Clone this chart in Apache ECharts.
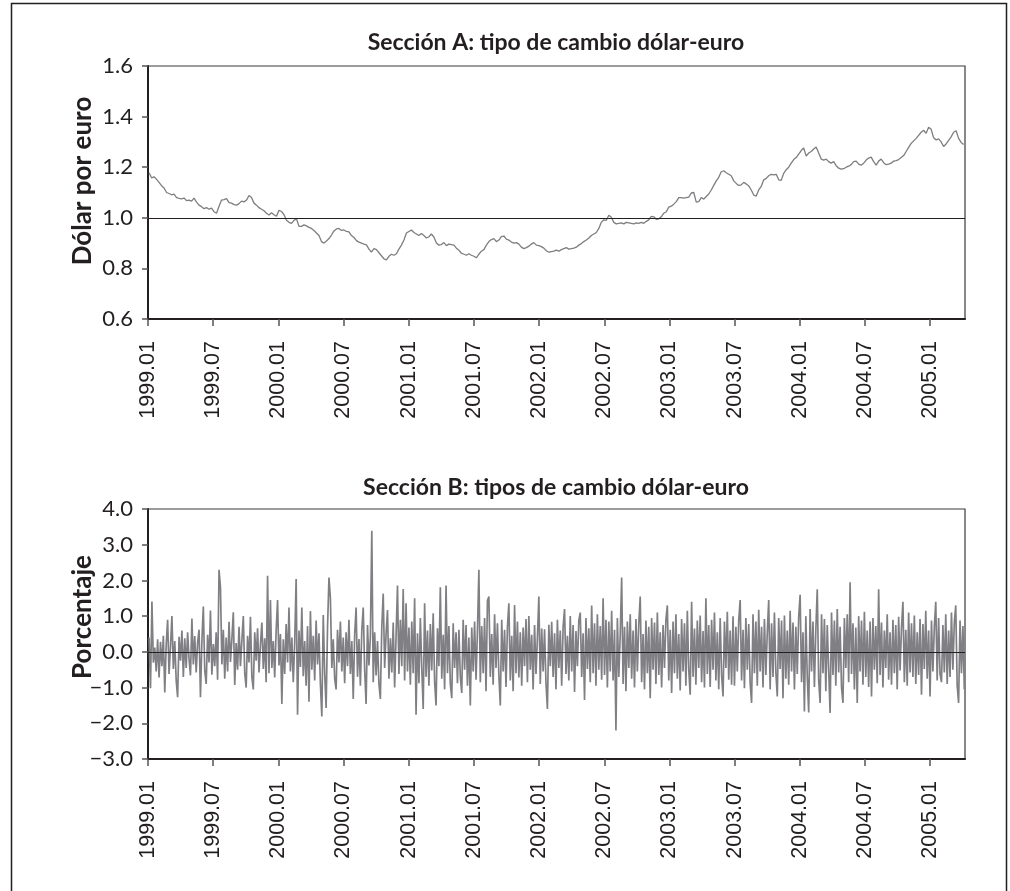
<!DOCTYPE html>
<html>
<head>
<meta charset="utf-8">
<title>Tipo de cambio dólar-euro</title>
<script src="https://cdn.jsdelivr.net/npm/echarts@6/dist/echarts.min.js"></script>
<style>
  html, body { margin: 0; padding: 0; background: #ffffff; }
  #chart { width: 1010px; height: 891px; }
</style>
</head>
<body>
<div id="chart"></div>
<script>
// Etiquetas del eje temporal (cada seis meses)
const xTickLabels = ['1999.01','1999.07','2000.01','2000.07','2001.01','2001.07','2002.01',
  '2002.07','2003.01','2003.07','2004.01','2004.07','2005.01'];

// Sección A: dólares por euro, un dato por semana (lunes), desde el 4 de enero de 1999
const rateWeekly = [
  // 1999
  1.178,1.158,1.162,1.152, 1.140,1.127,1.118,1.100, 1.096,1.091,1.094,1.080,1.077,
  1.075,1.078,1.068,1.070, 1.066,1.078,1.062,1.050,1.044, 1.036,1.040,1.034,1.038,
  1.024,1.018,1.046,1.070, 1.072,1.076,1.060,1.058,1.052, 1.050,1.056,1.066,1.063,
  1.070,1.088,1.080,1.058, 1.050,1.040,1.034,1.028,1.018, 1.011,1.020,1.012,1.006,
  // 2000
  1.030,1.025,1.012,0.990,0.982, 0.978,0.990,0.996,0.966, 0.966,0.972,0.968,0.962,
  0.958,0.950,0.940,0.930, 0.906,0.900,0.908,0.918,0.932, 0.948,0.956,0.958,0.950,
  0.952,0.946,0.944,0.930,0.922, 0.910,0.904,0.900,0.896, 0.893,0.876,0.864,0.878,
  0.874,0.862,0.850,0.838,0.834, 0.848,0.856,0.852,0.858, 0.876,0.892,0.912,0.940,
  // 2001
  0.946,0.952,0.942,0.936,0.930, 0.938,0.930,0.920,0.925, 0.936,0.924,0.900,0.892,
  0.894,0.902,0.890,0.896,0.894, 0.892,0.880,0.872,0.860, 0.856,0.852,0.858,0.852,
  0.848,0.842,0.856,0.868,0.874, 0.892,0.906,0.914,0.918, 0.906,0.912,0.926,0.928,
  0.916,0.912,0.904,0.900,0.902, 0.896,0.884,0.878,0.882, 0.888,0.896,0.902,0.892,0.890,
  // 2002
  0.886,0.880,0.870,0.864, 0.866,0.868,0.872,0.868, 0.874,0.878,0.882,0.876,
  0.878,0.880,0.884,0.892,0.898, 0.906,0.912,0.920,0.930, 0.936,0.942,0.958,0.982,
  0.992,0.990,1.010,1.002,0.982, 0.976,0.978,0.980,0.976, 0.982,0.980,0.978,0.976,0.980,
  0.978,0.982,0.978,0.986, 0.992,1.006,1.004,0.994, 0.996,1.004,1.018,1.024,1.042,
  // 2003
  1.046,1.054,1.064,1.080, 1.080,1.078,1.080,1.082, 1.098,1.100,1.062,1.064,1.080,
  1.074,1.084,1.094,1.110, 1.128,1.146,1.160,1.182, 1.186,1.178,1.172,1.166,1.146,
  1.136,1.128,1.130,1.140, 1.134,1.126,1.110,1.090, 1.086,1.110,1.124,1.150,1.156,
  1.166,1.172,1.170,1.172, 1.150,1.148,1.176,1.190, 1.200,1.216,1.230,1.238,1.252,
  // 2004
  1.266,1.276,1.244,1.256, 1.262,1.272,1.280,1.256, 1.232,1.228,1.232,1.222,1.216,
  1.222,1.206,1.196,1.192, 1.194,1.200,1.204,1.210,1.222, 1.224,1.212,1.208,1.216,
  1.228,1.236,1.240,1.222, 1.208,1.224,1.232,1.218,1.210, 1.212,1.216,1.224,1.226,
  1.230,1.238,1.246,1.262, 1.278,1.294,1.304,1.314,1.326, 1.338,1.346,1.334,1.358,
  // 2005
  1.350,1.316,1.308,1.312,1.300, 1.282,1.292,1.306,1.320, 1.338,1.344,1.314,1.298,
  1.290
];

// Sección B: variación porcentual del tipo de cambio, un dato cada cuatro días
const pctChange = [
  0.40,-1.02,1.41,-0.30,0.12,-0.55,0.35,-0.72,0.28,-0.40,0.45,-1.14,0.20,0.90,-0.62,0.15,
  1.00,-0.48,0.30,-0.80,-1.27,0.42,-0.25,0.60,-0.70,0.38,-0.45,0.55,-0.20,-0.66,0.93,-0.35,
  0.44,-0.58,0.25,0.62,-1.27,0.30,1.27,-0.52,-0.90,0.48,-0.30,1.16,-0.64,0.22,
  -0.40,0.55,-0.78,2.30,1.81,-0.35,0.62,-0.75,0.40,-0.55,0.84,-0.28,0.36,1.11,-0.93,0.25,
  -0.50,0.70,-0.40,0.32,1.00,-0.60,-1.00,0.45,-0.30,0.98,-0.70,-1.05,0.55,-0.25,0.66,-0.58,
  0.20,0.82,-0.48,0.38,-0.85,2.13,-0.60,1.45,-0.45,0.30,-0.72,0.58,1.45,-0.38,
  0.50,-1.46,0.35,-0.62,0.78,-0.30,1.24,-0.55,0.40,-0.85,0.25,2.04,-1.76,0.60,-0.42,1.24,
  -0.68,0.30,-0.95,0.72,-1.40,1.14,-0.50,0.45,-0.80,0.88,-0.35,0.52,-0.90,-1.81,1.03,-0.60,
  -1.57,0.70,2.08,1.50,-0.45,0.35,-0.75,-1.05,0.62,-0.30,0.85,-0.55,0.40,-0.88,
  0.55,-0.40,0.90,-0.62,0.30,-1.32,0.48,1.24,-0.70,0.36,-0.95,0.60,1.24,-0.50,-1.46,0.75,
  -0.38,0.42,3.39,-0.85,0.55,-0.66,0.30,-0.90,-1.32,0.70,1.63,-0.45,0.50,1.17,-0.75,0.38,
  -0.58,0.82,-1.00,0.45,1.86,-0.62,0.90,-0.40,1.76,-0.80,1.36,-0.55,0.68,-0.92,
  0.85,-0.60,1.50,-1.76,0.52,-0.88,0.95,-0.45,-1.60,1.36,-0.70,0.60,-0.95,0.78,-0.52,1.08,
  -0.84,-1.50,0.66,-0.40,1.81,-0.75,0.48,-1.05,1.86,-0.60,0.72,-0.90,-1.30,0.80,-0.45,0.55,
  -0.88,0.62,-0.70,-1.15,0.90,-0.50,0.75,-0.95,0.40,-1.50,0.68,-0.55,0.85,-0.78,
  0.60,2.30,-0.85,0.72,-0.60,0.95,-1.10,1.43,1.55,-0.70,0.50,-0.92,1.05,-0.45,0.80,-0.65,
  -1.50,0.90,-0.55,0.62,-0.98,0.70,1.36,-0.80,0.45,-1.10,1.31,-0.60,0.85,-0.72,0.55,-0.95,
  0.68,-0.40,0.92,-0.85,1.00,-0.50,0.48,-1.05,0.75,-0.62,0.40,1.55,-0.90,0.65,
  -0.55,0.63,-0.88,-1.60,0.76,-0.40,0.84,-0.70,0.52,-1.05,0.90,-0.45,0.60,-0.95,0.70,1.20,
  -0.62,0.45,-0.80,1.00,-0.55,0.75,-1.12,0.58,-0.40,0.88,1.10,-0.70,0.52,-1.35,0.95,-0.48,
  0.66,-0.85,1.30,-0.60,0.80,-0.95,1.05,-0.50,0.72,-0.78,1.50,-0.65,0.90,-1.00,
  0.85,-0.55,1.15,-0.80,0.62,-2.20,0.95,-0.70,0.48,2.08,-0.90,0.70,-1.10,0.85,-0.45,1.05,
  -0.75,0.60,-1.00,0.92,-0.55,0.78,1.55,-0.85,0.50,-1.05,0.88,-0.60,0.70,-1.30,0.95,-0.50,
  0.82,-0.90,1.10,-0.65,0.55,-1.00,0.75,-0.45,0.90,1.30,-0.80,0.62,-1.15,0.85,
  -0.60,1.05,-0.75,0.50,-1.08,0.92,-0.55,0.80,-0.95,1.15,-0.50,-1.20,1.40,-0.70,0.65,-0.92,
  0.88,-0.45,1.02,-0.85,0.58,-1.00,1.50,-0.62,0.75,-0.98,0.90,-0.50,1.10,-0.80,0.55,-1.05,
  0.95,-0.65,-1.25,0.85,-0.45,1.12,-0.78,0.60,-0.92,1.00,-0.95,0.70,-0.55,0.88,
  1.45,-0.80,0.62,-1.02,0.95,-0.50,0.78,-0.88,-1.43,1.05,-0.60,0.85,-0.95,1.18,-0.55,0.70,
  -1.00,0.92,-0.65,0.55,1.45,-1.05,0.80,-0.70,1.10,-0.58,-1.25,0.95,-0.48,0.88,-1.30,1.02,
  -0.75,0.60,-0.92,1.15,-0.55,0.82,-1.05,0.70,-0.62,0.98,1.60,-0.85,0.55,-1.67,
  1.00,-0.70,-1.70,1.20,-0.55,0.85,-0.98,0.62,1.75,-0.80,-1.43,1.05,-0.60,0.92,-1.10,0.75,
  -0.50,-1.71,1.10,-0.65,0.88,-0.95,1.20,-0.58,0.70,-1.00,-1.43,0.95,-0.45,1.05,-0.85,1.95,
  -0.62,0.80,-1.05,0.68,-1.43,1.00,-0.55,0.88,-0.92,1.12,-0.70,0.60,-0.98,0.85,
  -1.25,0.95,-0.50,0.72,-0.88,1.75,-0.65,0.82,-1.00,0.60,-0.45,1.05,-0.78,0.55,-0.92,0.90,
  -0.60,0.75,-1.05,0.98,-0.52,0.68,1.40,-0.85,0.62,-0.95,1.10,-0.58,0.80,-0.70,1.02,-0.90,
  0.55,-0.65,0.92,-1.20,0.78,-0.48,1.15,-0.75,0.60,-1.25,0.88,-0.55,0.70,1.40,
  -0.80,0.95,-0.62,-0.85,0.75,-0.58,1.05,-0.90,0.60,-0.70,1.10,-0.50,0.82,1.30,-0.95,-1.43,
  0.88,-0.60,0.72,-1.05
];

// Eje X en meses transcurridos desde enero de 1999
const DAYS_PER_MONTH = 30.4375;
const FIRST_DAY = 3;          // 4 de enero de 1999
const X_MAX = 75.2;           // principios de abril de 2005
const tickValues = xTickLabels.map((_, i) => i * 6);

const rateSeries = rateWeekly.map((v, i) => [(FIRST_DAY + 7 * i) / DAYS_PER_MONTH, v]);
const pctSeries = pctChange.map((v, i) => [(FIRST_DAY + 4 * i) / DAYS_PER_MONTH, v]);

const INK = '#231f20';
const LINE_GREY = '#7e7e82';
const humanist = 'Lato, "Open Sans", sans-serif';
const grotesk = '"Liberation Sans", Arial, sans-serif';

function xAxisFor(gridIndex) {
  return {
    type: 'value', gridIndex, min: 0, max: X_MAX,
    axisLine: { show: true, onZero: false, lineStyle: { color: INK, width: 2 } },
    axisTick: { show: true, length: 7, customValues: tickValues, lineStyle: { color: '#555', width: 1.5 } },
    axisLabel: {
      customValues: tickValues, rotate: 90, margin: 22,
      fontFamily: grotesk, fontSize: 21.5, color: INK,
      formatter: v => xTickLabels[Math.round(v / 6)] || ''
    },
    splitLine: { show: false }
  };
}

function fmtY(v) {
  const s = Math.abs(v).toFixed(1);
  return v < -1e-9 ? '\u2212' + s : s;
}

function yAxisFor(gridIndex, min, max, interval) {
  return {
    type: 'value', gridIndex, min, max, interval,
    axisLine: { show: true, onZero: false, lineStyle: { color: INK, width: 2 } },
    axisTick: { show: true, length: 6, lineStyle: { color: '#555', width: 1.5 } },
    axisLabel: { margin: 15, fontFamily: humanist, fontSize: 22, color: INK, formatter: fmtY },
    splitLine: { show: false }
  };
}

function refLine(y) {
  return {
    silent: true, symbol: ['none', 'none'], label: { show: false },
    lineStyle: { color: INK, width: 1.2, type: 'solid' },
    emphasis: { disabled: true },
    data: [{ yAxis: y }]
  };
}

const chart = echarts.init(document.getElementById('chart'), null, { renderer: 'canvas' });

chart.setOption({
  animation: false,
  backgroundColor: '#ffffff',
  grid: [
    { left: 148, top: 66, width: 817, height: 253, show: true, borderColor: '#3a3a3a', borderWidth: 1.2, backgroundColor: 'transparent' },
    { left: 148, top: 509, width: 817, height: 250, show: true, borderColor: '#3a3a3a', borderWidth: 1.2, backgroundColor: 'transparent' }
  ],
  xAxis: [xAxisFor(0), xAxisFor(1)],
  yAxis: [yAxisFor(0, 0.6, 1.6, 0.2), yAxisFor(1, -3, 4, 1)],
  series: [
    {
      type: 'line', xAxisIndex: 0, yAxisIndex: 0, data: rateSeries,
      showSymbol: false, symbol: 'none',
      lineStyle: { color: LINE_GREY, width: 1.3 },
      markLine: refLine(1.0)
    },
    {
      type: 'line', xAxisIndex: 1, yAxisIndex: 1, data: pctSeries,
      showSymbol: false, symbol: 'none',
      lineStyle: { color: '#808084', width: 1.7, join: 'bevel' },
      markLine: refLine(0)
    }
  ],
  graphic: [
    { type: 'rect', shape: { x: 11.5, y: 3.5, width: 995, height: 900 }, style: { fill: 'none', stroke: INK, lineWidth: 1.5 }, silent: true },
    { type: 'text', x: 556, y: 43, style: { text: 'Sección A: tipo de cambio dólar-euro', font: 'bold 23px ' + humanist, fill: INK, align: 'center', verticalAlign: 'middle' } },
    { type: 'text', x: 556, y: 488, style: { text: 'Sección B: tipos de cambio dólar-euro', font: 'bold 23px ' + humanist, fill: INK, align: 'center', verticalAlign: 'middle' } },
    { type: 'text', x: 83, y: 181, rotation: Math.PI / 2, style: { text: 'Dólar por euro', font: 'bold 26px ' + humanist, fill: INK, align: 'center', verticalAlign: 'middle' } },
    { type: 'text', x: 83, y: 617, rotation: Math.PI / 2, style: { text: 'Porcentaje', font: 'bold 26px ' + humanist, fill: INK, align: 'center', verticalAlign: 'middle' } }
  ]
});
</script>
</body>
</html>
